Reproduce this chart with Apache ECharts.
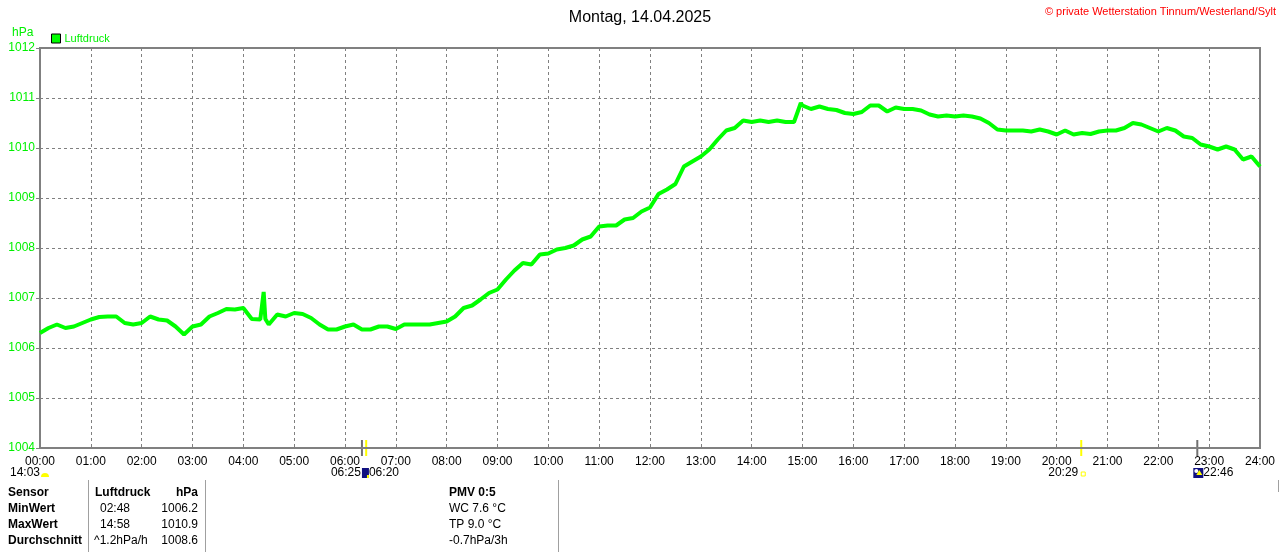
<!DOCTYPE html>
<html>
<head>
<meta charset="utf-8">
<script src="https://cdn.jsdelivr.net/npm/echarts@6/dist/echarts.min.js"></script>
<style>
  html, body { margin: 0; padding: 0; background: #fff; }
  #chart { width: 1280px; height: 552px; }
</style>
</head>
<body>
<div id="chart"></div>
<script>
// Luftdruck Tagesverlauf, Werte alle 10 Minuten ab 00:00
const stepMinutes = 10;
const pressure = [
  1006.30, 1006.40, 1006.47, 1006.40, 1006.43, 1006.50, // 00:00
  1006.57, 1006.62, 1006.63, 1006.63, 1006.50, 1006.47, // 01:00
  1006.50, 1006.63, 1006.57, 1006.55, 1006.43, 1006.27, // 02:00
  1006.43, 1006.47, 1006.63, 1006.70, 1006.78, 1006.77, // 03:00
  1006.80, 1006.58, 1006.57, 1006.47, 1006.67, 1006.63, // 04:00
  1006.70, 1006.68, 1006.60, 1006.47, 1006.37, 1006.37, // 05:00
  1006.43, 1006.47, 1006.37, 1006.37, 1006.43, 1006.43, // 06:00
  1006.38, 1006.47, 1006.47, 1006.47, 1006.47, 1006.50, // 07:00
  1006.53, 1006.63, 1006.80, 1006.85, 1006.97, 1007.10, // 08:00
  1007.17, 1007.37, 1007.55, 1007.70, 1007.67, 1007.87, // 09:00
  1007.89, 1007.97, 1008.00, 1008.05, 1008.17, 1008.23, // 10:00
  1008.43, 1008.45, 1008.45, 1008.57, 1008.60, 1008.73, // 11:00
  1008.81, 1009.08, 1009.17, 1009.28, 1009.63, 1009.73, // 12:00
  1009.83, 1009.97, 1010.17, 1010.35, 1010.40, 1010.55, // 13:00
  1010.52, 1010.55, 1010.52, 1010.55, 1010.52, 1010.52, // 14:00
  1010.85, 1010.78, 1010.83, 1010.78, 1010.76, 1010.70, // 15:00
  1010.68, 1010.72, 1010.85, 1010.85, 1010.73, 1010.81, // 16:00
  1010.78, 1010.78, 1010.75, 1010.67, 1010.63, 1010.65, // 17:00
  1010.63, 1010.65, 1010.63, 1010.59, 1010.50, 1010.37, // 18:00
  1010.35, 1010.35, 1010.35, 1010.33, 1010.37, 1010.33, // 19:00
  1010.27, 1010.35, 1010.27, 1010.30, 1010.28, 1010.33, // 20:00
  1010.35, 1010.35, 1010.40, 1010.50, 1010.47, 1010.40, // 21:00
  1010.33, 1010.40, 1010.35, 1010.23, 1010.20, 1010.07, // 22:00
  1010.03, 1009.97, 1010.03, 1009.97, 1009.77, 1009.83, // 23:00
  1009.63
];
// kurze Ausreisser zwischen den 10-Minuten-Werten [Minute, hPa]
const extraPoints = [[262, 1006.58], [264, 1007.12], [266, 1006.58], [898, 1010.90]];

const yTicks = [1004, 1005, 1006, 1007, 1008, 1009, 1010, 1011, 1012];

// Sonne/Mond Markierungen unter der Achse (Minuten)
const astroTicks = [
  { t: 380, color: '#707070' },
  { t: 385, color: '#ffff00' },
  { t: 1229, color: '#ffff00' },
  { t: 1366, color: '#707070' }
];

const statsHeader = ['Sensor', 'Luftdruck', 'hPa'];
const statsLabels = ['MinWert', 'MaxWert', 'Durchschnitt'];
const statsTimes = ['02:48', '14:58', '^1.2hPa/h'];
const statsValues = ['1006.2', '1010.9', '1008.6'];
const pmvLines = ['PMV 0:5', 'WC 7.6 °C', 'TP 9.0 °C', '-0.7hPa/3h'];

const GREEN = '#00f000';
const GRAY = '#808080';
const FONT = 'Liberation Sans, Arial, sans-serif';

const seriesData = pressure.map((v, i) => [i * stepMinutes, v])
  .concat(extraPoints)
  .sort((a, b) => a[0] - b[0]);

const pad = (n) => (n < 10 ? '0' : '') + n;

const chart = echarts.init(document.getElementById('chart'), null, { renderer: 'canvas' });

chart.setOption({
  animation: false,
  backgroundColor: '#fff',
  textStyle: { fontFamily: FONT },
  title: {
    text: 'Montag, 14.04.2025',
    left: 'center',
    top: 5,
    textStyle: { fontSize: 16, fontWeight: 'normal', color: '#000', fontFamily: FONT }
  },
  legend: {
    left: 46,
    top: 28,
    itemWidth: 9,
    itemHeight: 9,
    itemGap: 4,
    data: [{
      name: 'Luftdruck',
      icon: 'rect',
      itemStyle: { color: '#00ff00', borderColor: '#000', borderWidth: 1 }
    }],
    textStyle: { color: GREEN, fontSize: 11, fontFamily: FONT, padding: [0, 0, 0, -1] }
  },
  grid: {
    left: 40, right: 20, top: 48, bottom: 104,
    show: true,
    borderColor: GRAY,
    borderWidth: 2
  },
  xAxis: {
    type: 'value',
    min: 0,
    max: 1440,
    interval: 60,
    axisLine: { lineStyle: { color: GRAY, width: 2 } },
    axisTick: { show: false },
    axisLabel: {
      color: '#000',
      fontSize: 12,
      margin: 8,
      fontFamily: FONT,
      formatter: (v) => pad(v / 60) + ':00'
    },
    splitLine: { show: true, lineStyle: { color: GRAY, type: [3, 3], width: 1 } }
  },
  yAxis: {
    type: 'value',
    min: yTicks[0],
    max: yTicks[yTicks.length - 1],
    interval: 1,
    axisLine: { show: true, lineStyle: { color: GRAY, width: 2 } },
    axisTick: { show: true, length: 4, lineStyle: { color: GRAY } },
    axisLabel: { color: GREEN, fontSize: 12, margin: 5, fontFamily: FONT, formatter: (v) => String(v) },
    splitLine: { show: true, lineStyle: { color: GRAY, type: [3, 3], width: 1 } }
  },
  series: [{
    name: 'Luftdruck',
    type: 'line',
    data: seriesData,
    showSymbol: false,
    lineStyle: { color: '#00ff00', width: 4 },
    itemStyle: { color: '#00ff00' }
  }]
});

// Markierungen und Tabelle ueber graphic, Positionen aus der Achse
const px = (t) => chart.convertToPixel({ gridIndex: 0 }, [t, 1004]);
const base = px(0)[1];
const graphics = [];

graphics.push({ type: 'text', left: 12, top: 27,
  style: { text: 'hPa', fill: GREEN, font: '12px ' + FONT } });
graphics.push({ type: 'text', right: 4, top: 6,
  style: { text: '© private Wetterstation Tinnum/Westerland/Sylt', fill: '#ff0000', font: '11px ' + FONT } });

astroTicks.forEach((m) => {
  const [x] = px(m.t);
  graphics.push({ type: 'line', shape: { x1: x, y1: base - 8, x2: x, y2: base + 8 },
    style: { stroke: m.color, lineWidth: 2 } });
});

const rowY = base + 25;
// 14:03 links mit Sonnensymbol
graphics.push({ type: 'text', x: 10, y: rowY,
  style: { text: '14:03', fill: '#000', font: '12px ' + FONT, textVerticalAlign: 'middle' } });
graphics.push({ type: 'sector', shape: { cx: px(0)[0] + 5, cy: rowY + 4, r: 4, r0: 0, startAngle: Math.PI, endAngle: 2 * Math.PI },
  style: { fill: '#ffff00' } });

// 06:25 / 06:20
const x620 = px(380)[0];
graphics.push({ type: 'text', x: x620 - 1, y: rowY,
  style: { text: '06:25', fill: '#000', font: '12px ' + FONT, textAlign: 'right', textVerticalAlign: 'middle' } });
graphics.push({ type: 'rect', shape: { x: x620, y: rowY - 5, width: 7, height: 10 }, style: { fill: '#101080' } });
graphics.push({ type: 'rect', shape: { x: x620 + 5, y: rowY + 2, width: 2, height: 3 }, style: { fill: '#ffff00' } });
graphics.push({ type: 'text', x: x620 + 7, y: rowY,
  style: { text: '06:20', fill: '#000', font: '12px ' + FONT, textVerticalAlign: 'middle' } });

// 20:29
const x2029 = px(1229)[0];
graphics.push({ type: 'text', x: x2029 - 3, y: rowY,
  style: { text: '20:29', fill: '#000', font: '12px ' + FONT, textAlign: 'right', textVerticalAlign: 'middle' } });
graphics.push({ type: 'rect', shape: { x: x2029, y: rowY - 1, width: 4, height: 4 },
  style: { fill: 'none', stroke: '#ffff00', lineWidth: 1 } });

// 22:46
const x2246 = px(1366)[0];
graphics.push({ type: 'rect', shape: { x: x2246 - 4, y: rowY - 5, width: 10, height: 10 }, style: { fill: '#101080' } });
graphics.push({ type: 'circle', shape: { cx: x2246 - 1, cy: rowY - 2, r: 2 }, style: { fill: '#ffffff' } });
graphics.push({ type: 'polygon', shape: { points: [[x2246 + 2, rowY - 3], [x2246 - 1, rowY + 2], [x2246 + 5, rowY + 2]] }, style: { fill: '#ffff00' } });
graphics.push({ type: 'text', x: x2246 + 6, y: rowY,
  style: { text: '22:46', fill: '#000', font: '12px ' + FONT, textVerticalAlign: 'middle' } });

// Tabelle
const tableTop = 480;
[88, 205, 558, 1278].forEach((x, i) => {
  graphics.push({ type: 'line', shape: { x1: x + 0.5, y1: tableTop, x2: x + 0.5, y2: i === 3 ? tableTop + 12 : 552 },
    style: { stroke: '#a0a0a0', lineWidth: 1 } });
});
const lineH = 16;
const y0 = 493;
const bold = 'bold 12px ' + FONT;
const norm = '12px ' + FONT;
graphics.push({ type: 'text', x: 8, y: y0, style: { text: statsHeader[0], font: bold, fill: '#000', textVerticalAlign: 'middle' } });
graphics.push({ type: 'text', x: 95, y: y0, style: { text: statsHeader[1], font: bold, fill: '#000', textVerticalAlign: 'middle' } });
graphics.push({ type: 'text', x: 198, y: y0, style: { text: statsHeader[2], font: bold, fill: '#000', textAlign: 'right', textVerticalAlign: 'middle' } });
statsLabels.forEach((lab, i) => {
  const y = y0 + (i + 1) * lineH;
  graphics.push({ type: 'text', x: 8, y: y, style: { text: lab, font: bold, fill: '#000', textVerticalAlign: 'middle' } });
  graphics.push({ type: 'text', x: i === 2 ? 94 : 100, y: y, style: { text: statsTimes[i], font: norm, fill: '#000', textVerticalAlign: 'middle' } });
  graphics.push({ type: 'text', x: 198, y: y, style: { text: statsValues[i], font: norm, fill: '#000', textAlign: 'right', textVerticalAlign: 'middle' } });
});
pmvLines.forEach((t, i) => {
  graphics.push({ type: 'text', x: 449, y: y0 + i * lineH,
    style: { text: t, font: i === 0 ? bold : norm, fill: '#000', textVerticalAlign: 'middle' } });
});

chart.setOption({ graphic: graphics });
</script>
</body>
</html>
